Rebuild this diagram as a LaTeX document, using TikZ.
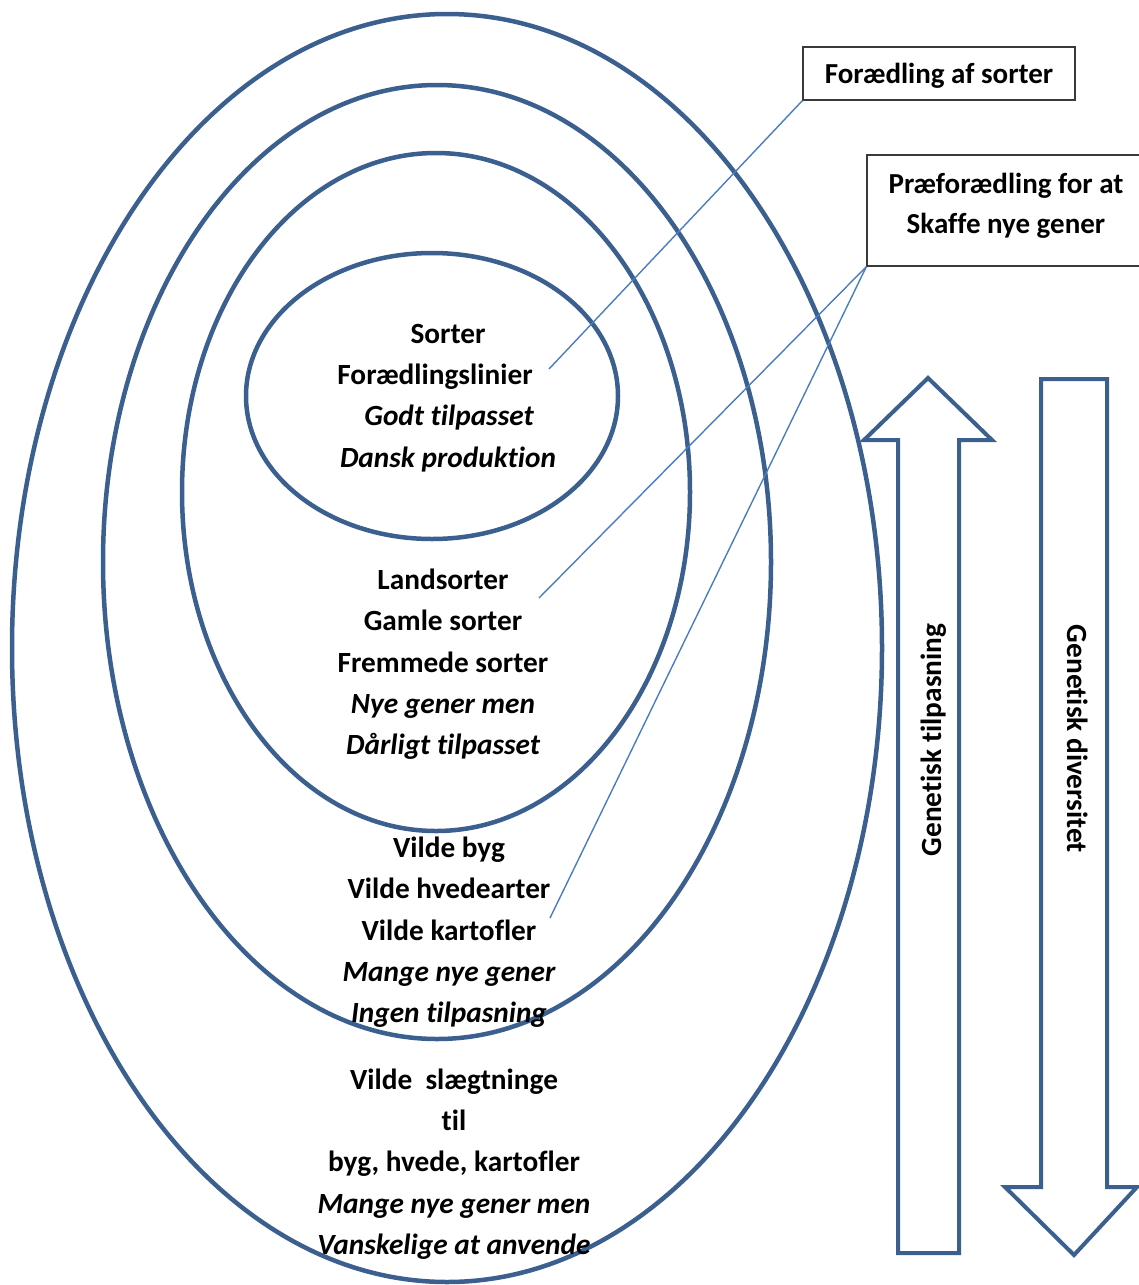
\documentclass[tikz,border=0pt]{standalone}
\usepackage{fontspec}
\setmainfont{Carlito}[Ligatures=NoCommon]
\begin{document}
\begin{tikzpicture}[x=1pt,y=-1pt,
  ring/.style={draw=ringblue,line width=4.5pt},
  bigarrow/.style={draw=ringblue,line width=4pt,line join=miter},
  lbl/.style={font=\fontsize{29.3}{34}\selectfont\bfseries,inner sep=0pt,anchor=center,text height=20pt,text depth=6pt},
  ilbl/.style={font=\fontsize{29.3}{34}\selectfont\bfseries\itshape,inner sep=0pt,anchor=center,text height=20pt,text depth=6pt},
  callout/.style={draw=boxgray,line width=1.3pt,inner sep=0pt},
  callouttext/.style={font=\fontsize{29}{40}\selectfont\bfseries,align=center,inner sep=0pt},
  leader/.style={draw=lineblue,line width=1.4pt}]
\definecolor{ringblue}{HTML}{3B5F8E}
\definecolor{lineblue}{HTML}{4A7DC0}
\definecolor{boxgray}{HTML}{3A3A3A}
\useasboundingbox (0,0) rectangle (1139,1285);
% ellipses
\draw[ring] (447,648) ellipse [x radius=435,y radius=634];
\draw[ring] (437,562) ellipse [x radius=334,y radius=477];
\draw[ring] (436,492) ellipse [x radius=254,y radius=339];
\draw[ring] (432,396) ellipse [x radius=186,y radius=143];
% inner texts
\node[lbl] (s1) at (448,336.5) {Sorter};
\node[lbl] (s2) at (435,377.5) {Forædlingslinier};
\node[ilbl] (s3) at (449,418.5) {Godt tilpasset};
\node[ilbl] (s4) at (448,460.5) {Dansk produktion};
\node[lbl] (l1) at (443,582.5) {Landsorter};
\node[lbl] (l2) at (443,623.5) {Gamle sorter};
\node[lbl] (l3) at (443,665.5) {Fremmede sorter};
\node[ilbl] (l4) at (443,706.5) {Nye gener men};
\node[ilbl] (l5) at (443,747.5) {Dårligt tilpasset};
\node[lbl] (v1) at (449,850.5) {Vilde byg};
\node[lbl] (v2) at (449,891.5) {Vilde hvedearter};
\node[lbl] (v3) at (449,933.5) {Vilde kartofler};
\node[ilbl] (v4) at (449,974.5) {Mange nye gener};
\node[ilbl] (v5) at (449,1015.5) {Ingen tilpasning};
\node[lbl] (w1) at (454,1082.5) {Vilde\ \ slægtninge};
\node[lbl] (w2) at (454,1123.5) {til};
\node[lbl] (w3) at (454,1164.5) {byg, hvede, kartofler};
\node[ilbl] (w4) at (454,1206.5) {Mange nye gener men};
\node[ilbl] (w5) at (454,1247.5) {Vanskelige at anvende};
% callout boxes
\node[callout,minimum width=272pt,minimum height=53pt] (b1) at (939,73.5) {};
\node[callouttext] (b1t) at (939,76) {Forædling af sorter};
\node[callout,minimum width=276pt,minimum height=111pt] (b2) at (1005,210.5) {};
\node[callouttext] (b2t) at (1006,206) {Præforædling for at\\Skaffe nye gener};
% leader lines
\coordinate (e1) at (549,369);
\coordinate (e2) at (539,598);
\coordinate (e3) at (550,918);
\draw[leader] (b1.south west) -- (e1);
\draw[leader] (b2.south west) -- (e2);
\draw[leader] (b2.south west) -- (e3);
% up arrow
\draw[bigarrow] (928,378) -- (992,440) -- (959,440) -- (959,1253) -- (898,1253) -- (898,440) -- (864,440) -- cycle;
% down arrow
\draw[bigarrow] (1041,379) -- (1107,379) -- (1107,1187) -- (1137,1187) -- (1074,1255) -- (1005,1187) -- (1041,1187) -- cycle;
\node[lbl,rotate=90] (t1) at (934,740) {Genetisk tilpasning};
\node[lbl,rotate=-90] (t2) at (1074,739) {Genetisk diversitet};
\end{tikzpicture}
\end{document}
